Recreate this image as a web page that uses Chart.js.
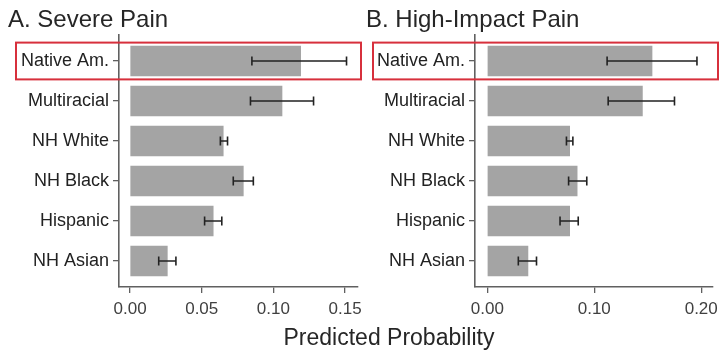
<!DOCTYPE html>
<html>
<head>
<meta charset="utf-8">
<script src="https://cdn.jsdelivr.net/npm/chart.js@4"></script>
<style>
	body { margin: 0; background: #fff; }
	#wrap { position: relative; width: 720px; height: 352px; overflow: hidden; font-family: 'Liberation Sans', Arial, sans-serif; color: #222; }
	canvas { position: absolute; top: 0; }
	.title { position: absolute; top: 5px; font-size: 24px; white-space: nowrap; color: #262626; }
	#xtitle { position: absolute; top: 324px; left: 0; width: 778px; text-align: center; font-size: 23px; color: #262626; }
</style>
</head>
<body>
<div id="wrap">
	<canvas id="chartA" width="362" height="352" style="left:0"></canvas>
	<canvas id="chartB" width="358" height="352" style="left:362px"></canvas>
	<div class="title" style="left:8px">A. Severe Pain</div>
	<div class="title" style="left:366px">B. High-Impact Pain</div>
	<div id="xtitle">Predicted Probability</div>
</div>
<script>
const categories = ['Native Am.', 'Multiracial', 'NH White', 'NH Black', 'Hispanic', 'NH Asian'];

const severeMean = [0.119, 0.106, 0.065, 0.079, 0.058, 0.026];
const severeLow  = [0.085, 0.084, 0.063, 0.072, 0.052, 0.020];
const severeHigh = [0.151, 0.128, 0.068, 0.086, 0.064, 0.032];

const impactMean = [0.154, 0.145, 0.077, 0.084, 0.077, 0.038];
const impactLow  = [0.112, 0.113, 0.074, 0.076, 0.068, 0.029];
const impactHigh = [0.196, 0.175, 0.080, 0.093, 0.085, 0.046];

const severeTicks = [0, 0.05, 0.10, 0.15];
const impactTicks = [0, 0.10, 0.20];

const FONT = "'Liberation Sans', Arial, sans-serif";
const AXIS_CLR = '#606060';

class PanelChart {

	constructor(canvasId, mean, low, high, ticks, opts) {
		this._canvasId = canvasId;
		this._mean = mean;
		this._low = low;
		this._high = high;
		this._ticks = ticks;
		this._opts = opts;
	}

	plot() {
		let low = this._low;
		let high = this._high;
		let ticks = this._ticks;
		let opts = this._opts;

		let points = this._mean.map(function(v, i) {
			return { x: v, y: i };
		});

		// whiskers drawn with the chart's own scales
		let errorBars = {
			id: 'errorBars',
			afterDatasetsDraw(chart) {
				let ctx = chart.ctx;
				let xs = chart.scales.x;
				let ys = chart.scales.y;
				ctx.save();
				ctx.strokeStyle = '#222';
				ctx.lineWidth = 1.6;
				for (let i = 0; i < low.length; i++) {
					let y = ys.getPixelForValue(i);
					let x1 = xs.getPixelForValue(low[i]);
					let x2 = xs.getPixelForValue(high[i]);
					ctx.beginPath();
					ctx.moveTo(x1, y); ctx.lineTo(x2, y);
					ctx.moveTo(x1, y - 4.5); ctx.lineTo(x1, y + 4.5);
					ctx.moveTo(x2, y - 4.5); ctx.lineTo(x2, y + 4.5);
					ctx.stroke();
				}
				ctx.restore();
			}
		};

		// red highlight round the first category
		let highlight = {
			id: 'highlight',
			afterDraw(chart) {
				let ctx = chart.ctx;
				let ys = chart.scales.y;
				let yc = ys.getPixelForValue(0);
				let top = ys.getPixelForValue(-0.46);
				let right = chart.chartArea.right + opts.boxRight;
				ctx.save();
				ctx.strokeStyle = '#d7303c';
				ctx.lineWidth = 2;
				ctx.strokeRect(opts.boxLeft, top, right - opts.boxLeft, (yc - top) * 2);
				ctx.restore();
			}
		};

		new Chart(document.getElementById(this._canvasId), {
			type: 'bar',
			data: {
				datasets: [{
					data: points,
					backgroundColor: '#a4a4a4',
					borderWidth: 0,
					barThickness: 30
				}]
			},
			options: {
				indexAxis: 'y',
				responsive: false,
				animation: false,
				devicePixelRatio: 1,
				layout: { padding: { top: 35, right: opts.padRight, bottom: 35, left: 0 } },
				plugins: { legend: { display: false }, tooltip: { enabled: false } },
				scales: {
					x: {
						type: 'linear',
						min: opts.xMin,
						max: opts.xMax,
						afterBuildTicks: function(scale) {
							scale.ticks = ticks.map(function(t) { return { value: t }; });
						},
						afterFit: function(scale) {
							scale.height = 30;
							scale.paddingLeft = 0;
							scale.paddingRight = 0;
						},
						ticks: {
							color: '#404040',
							font: { family: FONT, size: 17 },
							padding: 6,
							maxRotation: 0,
							callback: function(v) { return Number(v).toFixed(2); }
						},
						grid: { drawOnChartArea: false, drawTicks: true, tickLength: 6, color: AXIS_CLR, lineWidth: 1.3 },
						border: { display: true, color: AXIS_CLR, width: 1.6 }
					},
					y: {
						type: 'linear',
						reverse: true,
						offset: false,
						min: -0.65,
						max: 5.65,
						afterBuildTicks: function(scale) {
							scale.ticks = categories.map(function(c, i) { return { value: i }; });
						},
						afterFit: function(scale) {
							scale.width = opts.yWidth;
							scale.paddingTop = 0;
							scale.paddingBottom = 0;
						},
						ticks: {
							color: '#222',
							font: { family: FONT, size: 18 },
							padding: 4,
							callback: function(v) { return categories[v]; }
						},
						grid: { offset: false, drawOnChartArea: false, drawTicks: true, tickLength: 6, color: AXIS_CLR, lineWidth: 1.3 },
						border: { display: true, color: AXIS_CLR, width: 1.6 }
					}
				}
			},
			plugins: [errorBars, highlight]
		});
	}
}

new PanelChart('chartA', severeMean, severeLow, severeHigh, severeTicks,
	{ xMin: -0.0077, xMax: 0.159, yWidth: 119, padRight: 4, boxLeft: 16, boxRight: 3 }).plot();
new PanelChart('chartB', impactMean, impactLow, impactHigh, impactTicks,
	{ xMin: -0.0115, xMax: 0.211, yWidth: 113, padRight: 7, boxLeft: 11, boxRight: 5 }).plot();
</script>
</body>
</html>
